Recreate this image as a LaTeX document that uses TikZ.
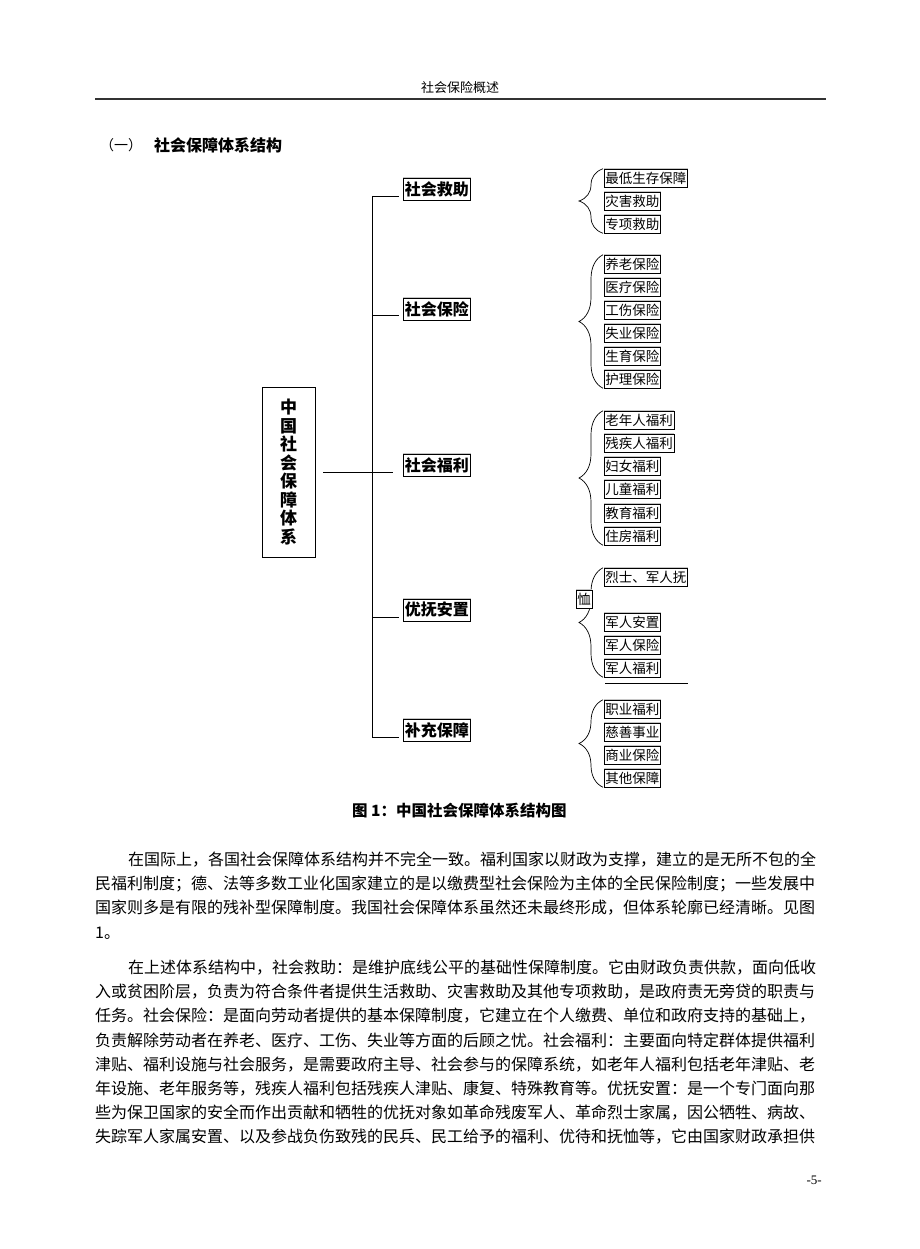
\documentclass[tikz,border=0pt]{standalone}
\usepackage{fontspec}
\setmainfont{Noto Sans CJK SC}
\newfontfamily\pagenumfont{Liberation Serif}
\usetikzlibrary{decorations.pathreplacing}
\XeTeXlinebreaklocale "zh"
\XeTeXlinebreakskip=0pt plus 1pt
\newcommand{\rowfill}[2]{\makebox[#1][s]{#2}}

\tikzset{
  topbox/.style={draw, line width=0.6pt, preaction={draw=gray!45, line width=1.6pt},
    fill=white, font=\fontsize{16}{18}\selectfont\bfseries, inner xsep=1.5pt,
    inner ysep=0pt, minimum height=22pt, anchor=west},
  itembox/.style={draw, line width=0.5pt, preaction={draw=gray!45, line width=1.4pt},
    fill=white, font=\fontsize{13.5}{15}\selectfont, inner xsep=1pt,
    inner ysep=0pt, minimum height=18pt, anchor=west},
  grpbrace/.style={decorate, decoration={brace, amplitude=24pt}, line width=0.7pt},
  bodyline/.style={anchor=west, inner sep=0pt, font=\fontsize{16}{20}\selectfont},
}

\begin{document}
\begin{tikzpicture}[x=1pt, y=-1pt]
  \useasboundingbox (0,0) rectangle (920,1249);

  % page head
  \node[font=\fontsize{13}{15}\selectfont] (head) at (460,88) {社会保险概述};
  \coordinate (hl) at (95,99);
  \coordinate (hr) at (826,99);
  \draw[line width=1.6pt, gray!40!black] (hl) -- (hr);
  \node[anchor=west, inner sep=0pt, font=\fontsize{14}{16}\selectfont] (secno) at (100,145) {（一）};
  \node[anchor=west, inner sep=0pt, font=\fontsize{16}{18}\selectfont\bfseries] (sectitle) at (154,145) {社会保障体系结构};

  % root and first level
  \node[draw, line width=0.6pt, minimum width=53pt, minimum height=170pt, align=center,
    font=\fontsize{17}{18.5}\selectfont\bfseries] (tixi) at (288.5,472)
    {中\\国\\社\\会\\保\\障\\体\\系};
  \node[topbox] (jiuzhu) at (403,189) {社会救助};
  \node[topbox] (baoxian) at (403,309) {社会保险};
  \node[topbox] (fuli) at (403,465) {社会福利};
  \node[topbox] (youfu) at (403,610) {优抚安置};
  \node[topbox] (buchong) at (403,730) {补充保障};

  % second level
  \node[itembox] (jz1) at (604,178) {最低生存保障};
  \node[itembox] (jz2) at (604,201) {灾害救助};
  \node[itembox] (jz3) at (604,224) {专项救助};

  \node[itembox] (bx1) at (604,264) {养老保险};
  \node[itembox] (bx2) at (604,287) {医疗保险};
  \node[itembox] (bx3) at (604,310) {工伤保险};
  \node[itembox] (bx4) at (604,333) {失业保险};
  \node[itembox] (bx5) at (604,356) {生育保险};
  \node[itembox] (bx6) at (604,379) {护理保险};

  \node[itembox] (fl1) at (604,420) {老年人福利};
  \node[itembox] (fl2) at (604,443) {残疾人福利};
  \node[itembox] (fl3) at (604,466) {妇女福利};
  \node[itembox] (fl4) at (604,489) {儿童福利};
  \node[itembox] (fl5) at (604,513) {教育福利};
  \node[itembox] (fl6) at (604,536) {住房福利};

  \node[itembox] (yf1) at (604,577) {烈士、军人抚};
  \node[itembox] (yf2) at (604,622) {军人安置};
  \node[itembox] (yf3) at (604,645) {军人保险};
  \node[itembox] (yf4) at (604,668) {军人福利};

  \node[itembox] (bc1) at (604,709) {职业福利};
  \node[itembox] (bc2) at (604,732) {慈善事业};
  \node[itembox] (bc3) at (604,755) {商业保险};
  \node[itembox] (bc4) at (604,778) {其他保障};

  % tree lines
  \coordinate (spine) at (372,0);
  \coordinate (e1) at ([xshift=-4pt,yshift=-7pt]jiuzhu.west);
  \coordinate (e2) at ([xshift=-4pt,yshift=-6.5pt]baoxian.west);
  \coordinate (e3) at ([xshift=-10pt,yshift=-7pt]fuli.west);
  \coordinate (e4) at ([xshift=-4pt,yshift=-7pt]youfu.west);
  \coordinate (e5) at ([xshift=-4pt,yshift=-7pt]buchong.west);
  \draw[line width=0.7pt] (e1 -| spine) -- (e5 -| spine);
  \draw[line width=0.7pt] (e1 -| spine) -- (e1);
  \draw[line width=0.7pt] (e2 -| spine) -- (e2);
  \draw[line width=0.7pt] ([xshift=8pt]tixi.east) -- (e3);
  \draw[line width=0.7pt] (e4 -| spine) -- (e4);
  \draw[line width=0.7pt] (e5 -| spine) -- (e5);

  % braces
  \draw[grpbrace] ([xshift=-1pt]jz3.south west) -- ([xshift=-1pt]jz1.north west);
  \draw[grpbrace] ([xshift=-1pt]bx6.south west) -- ([xshift=-1pt]bx1.north west);
  \draw[grpbrace] ([xshift=-1pt]fl6.south west) -- ([xshift=-1pt]fl1.north west);
  \draw[grpbrace] ([xshift=-1pt]yf4.south west) -- ([xshift=-1pt]yf1.north west);
  \draw[grpbrace] ([xshift=-1pt]bc4.south west) -- ([xshift=-1pt]bc1.north west);
  \node[itembox, anchor=center] (yfx) at (584,599) {恤};
  \coordinate (yfl) at (605,683.5);
  \coordinate (yfr) at (688,683.5);
  \draw[line width=0.6pt] (yfl) -- (yfr);

  % caption
  \node[anchor=west, inner sep=0pt, font=\fontsize{15.5}{18}\selectfont\bfseries] (caption) at (352,811)
    {图 1：中国社会保障体系结构图};

  % body text
  \node[bodyline] (p1a) at (128,860) {\rowfill{698pt}{在国际上，各国社会保障体系结构并不完全一致。福利国家以财政为支撑，建立的是无所不包的全}};
  \node[bodyline] (p1b) at (95,884) {\rowfill{731pt}{民福利制度；德、法等多数工业化国家建立的是以缴费型社会保险为主体的全民保险制度；一些发展中}};
  \node[bodyline] (p1c) at (95,908) {\rowfill{731pt}{国家则多是有限的残补型保障制度。我国社会保障体系虽然还未最终形成，但体系轮廓已经清晰。见图}};
  \node[bodyline] (p1d) at (95,933) {1。};

  \node[bodyline] (p2a) at (128,968) {\rowfill{698pt}{在上述体系结构中，社会救助：是维护底线公平的基础性保障制度。它由财政负责供款，面向低收}};
  \node[bodyline] (p2b) at (95,992) {\rowfill{731pt}{入或贫困阶层，负责为符合条件者提供生活救助、灾害救助及其他专项救助，是政府责无旁贷的职责与}};
  \node[bodyline] (p2c) at (95,1016) {\rowfill{731pt}{任务。社会保险：是面向劳动者提供的基本保障制度，它建立在个人缴费、单位和政府支持的基础上，}};
  \node[bodyline] (p2d) at (95,1040.5) {\rowfill{731pt}{负责解除劳动者在养老、医疗、工伤、失业等方面的后顾之忧。社会福利：主要面向特定群体提供福利}};
  \node[bodyline] (p2e) at (95,1064.5) {\rowfill{731pt}{津贴、福利设施与社会服务，是需要政府主导、社会参与的保障系统，如老年人福利包括老年津贴、老}};
  \node[bodyline] (p2f) at (95,1088.5) {\rowfill{731pt}{年设施、老年服务等，残疾人福利包括残疾人津贴、康复、特殊教育等。优抚安置：是一个专门面向那}};
  \node[bodyline] (p2g) at (95,1113) {\rowfill{731pt}{些为保卫国家的安全而作出贡献和牺牲的优抚对象如革命残废军人、革命烈士家属，因公牺牲、病故、}};
  \node[bodyline] (p2h) at (95,1137) {\rowfill{731pt}{失踪军人家属安置、以及参战负伤致残的民兵、民工给予的福利、优待和抚恤等，它由国家财政承担供}};

  % page number
  \node[anchor=east, inner sep=0pt, font=\pagenumfont\fontsize{13}{15}\selectfont] (pageno) at (822,1180) {-5-};
\end{tikzpicture}
\end{document}
